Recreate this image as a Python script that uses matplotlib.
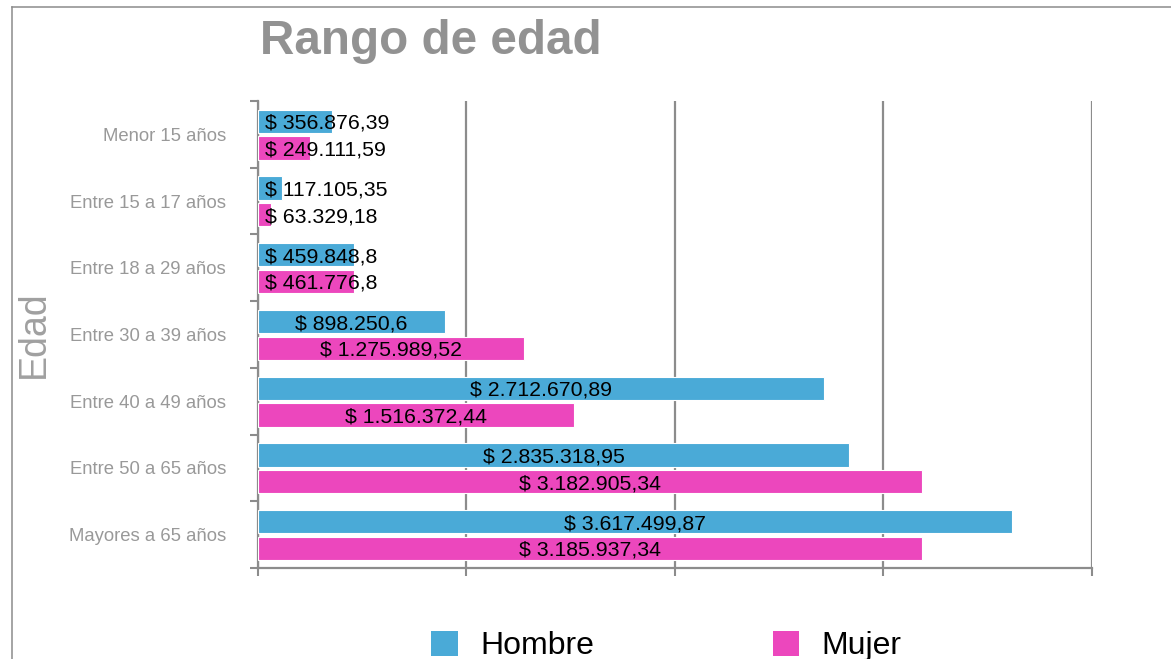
import numpy as np
import matplotlib.pyplot as plt
from matplotlib.lines import Line2D
from matplotlib.patches import Patch

plt.rcParams['font.family'] = ['Liberation Sans', 'DejaVu Sans']

# datos por rango de edad
categorias = ['Menor 15 años', 'Entre 15 a 17 años', 'Entre 18 a 29 años',
              'Entre 30 a 39 años', 'Entre 40 a 49 años', 'Entre 50 a 65 años',
              'Mayores a 65 años']
hombre = [356876.39, 117105.35, 459848.8, 898250.6, 2712670.89, 2835318.95, 3617499.87]
mujer = [249111.59, 63329.18, 461776.8, 1275989.52, 1516372.44, 3182905.34, 3185937.34]

color_h = '#4aaad7'
color_m = '#ec47bd'
gris = '#8c8c8c'


def formato(v):
    s = f'{v:,.2f}'.rstrip('0').rstrip('.')
    s = s.replace(',', 'X').replace('.', ',').replace('X', '.')
    return '$ ' + s


fig = plt.figure(figsize=(11.71, 6.59), dpi=100)
ax = fig.add_axes([0.2203, 0.1381, 0.7122, 0.7086])

y = np.arange(len(categorias))
alto = 0.35
b_h = ax.barh(y - 0.195, hombre, height=alto, color=color_h, edgecolor='white', linewidth=0.8, zorder=3)
b_m = ax.barh(y + 0.205, mujer, height=alto, color=color_m, edgecolor='white', linewidth=0.8, zorder=3)

ax.set_xlim(0, 4e6)
ax.set_ylim(6.5, -0.5)

ax.set_xticks([0, 1e6, 2e6, 3e6, 4e6])
ax.set_xticklabels([])
ax.tick_params(axis='x', length=6, width=1.5, color=gris, direction='out')
ax.grid(axis='x', color=gris, linewidth=1.6, zorder=0)

ax.set_yticks(np.arange(-0.5, 7, 1))
ax.set_yticklabels([])
ax.tick_params(axis='y', which='major', length=6, width=1.5, color=gris)
ax.set_yticks(y, minor=True)
ax.set_yticklabels(categorias, minor=True, fontsize=13.3, color='#999999')
ax.tick_params(axis='y', which='minor', length=0, pad=23)

for s in ['top', 'right']:
    ax.spines[s].set_visible(False)
for s in ['left', 'bottom']:
    ax.spines[s].set_color(gris)
    ax.spines[s].set_linewidth(1.6)

ax.set_ylabel('Edad', fontsize=27, color='#a0a0a0')
ax.yaxis.set_label_coords(-0.247, 0.5)

# etiquetas de valores
fig.canvas.draw()
renderer = fig.canvas.get_renderer()
px_por_unidad = ax.transData.transform((1e6, 0))[0] - ax.transData.transform((0, 0))[0]
for barras, valores in [(b_h, hombre), (b_m, mujer)]:
    for rect, v in zip(barras, valores):
        yc = rect.get_y() + rect.get_height() / 2
        t = ax.text(v / 2, yc, formato(v), ha='center', va='center_baseline', fontsize=15.3,
                    color='black', zorder=4)
        ancho = t.get_window_extent(renderer).width
        if ancho > v / 1e6 * px_por_unidad:
            t.set_x(7 / px_por_unidad * 1e6)
            t.set_ha('left')

fig.text(0.222, 0.937, 'Rango de edad', fontsize=34.3, fontweight='bold', color='#929292', ha='left', va='center')

handles = [Patch(facecolor=color_h, edgecolor='none'), Patch(facecolor=color_m, edgecolor='none')]
fig.legend(handles, ['Hombre', 'Mujer'], loc='center', bbox_to_anchor=(0.569, 0.02), ncol=2,
           frameon=False, fontsize=23, handlelength=0.83, handleheight=0.83,
           handletextpad=0.7, columnspacing=5.6)

# marco de la figura
fig.add_artist(Line2D([12 / 1171, 1], [1 - 7 / 659, 1 - 7 / 659], transform=fig.transFigure, color=gris, linewidth=1.1))
fig.add_artist(Line2D([12 / 1171, 12 / 1171], [0, 1 - 7 / 659], transform=fig.transFigure, color=gris, linewidth=1.1))

fig.savefig('out.png', dpi=100)
